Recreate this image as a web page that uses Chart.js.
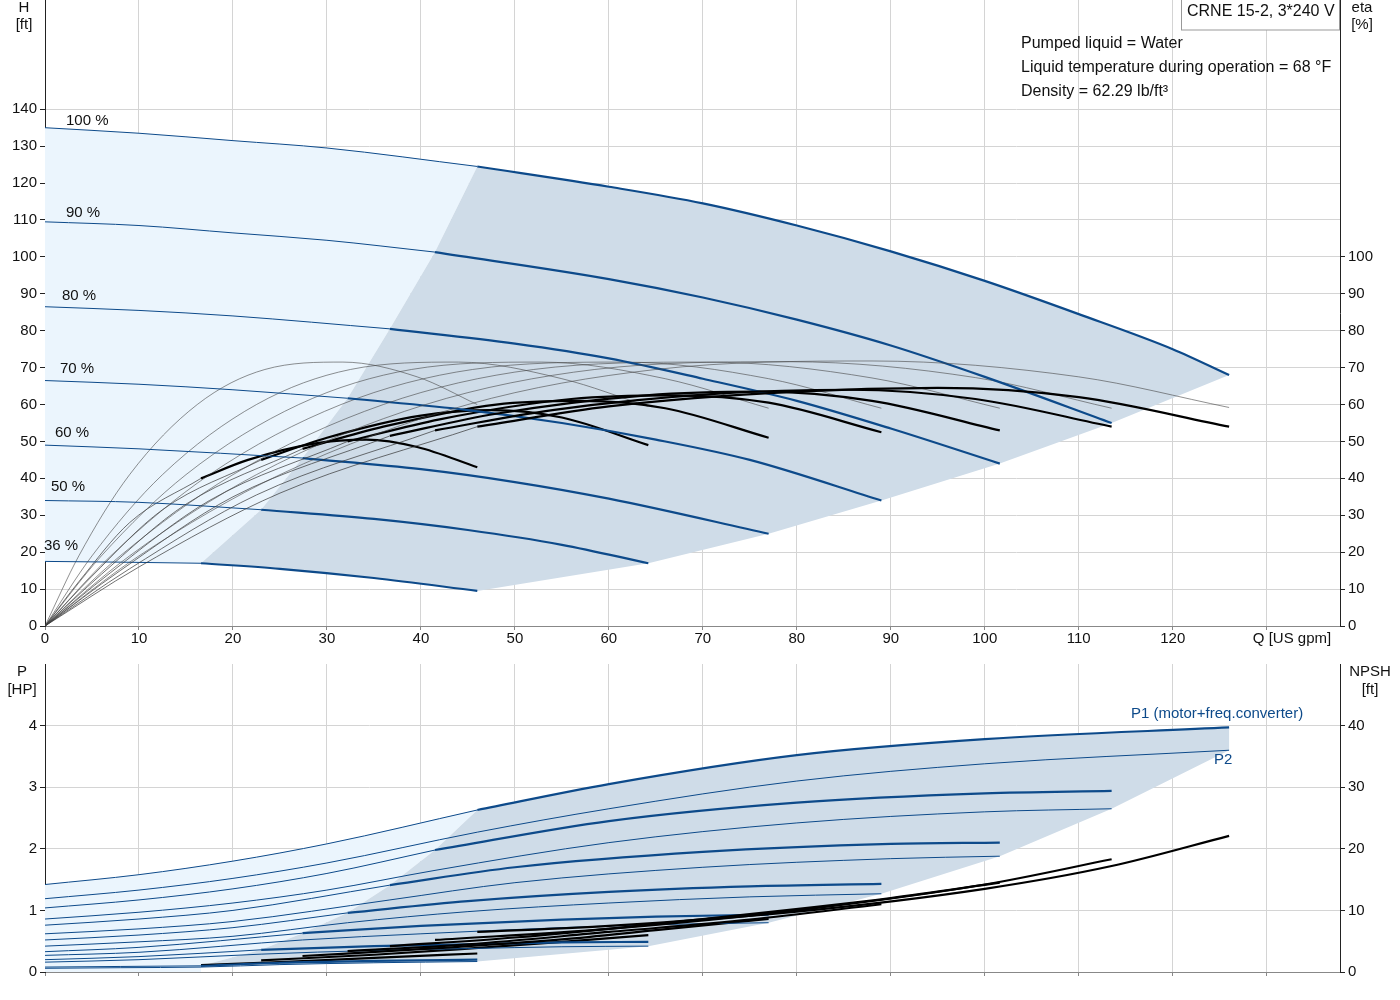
<!DOCTYPE html>
<html>
<head>
<meta charset="utf-8">
<script src="https://cdn.jsdelivr.net/npm/chart.js@4.4.1/dist/chart.umd.min.js"></script>
<style>
  body { margin: 0; background: #fff; overflow: hidden; }
  #top { position: absolute; left: 0; top: -12px; }
  #bottom { position: absolute; left: 0; top: 650px; }
</style>
</head>
<body>
<canvas id="top" width="1400" height="664"></canvas>
<canvas id="bottom" width="1400" height="350"></canvas>
<script>
// 속도별 라벨과 운전 범위
const speedLabels = ['100 %', '90 %', '80 %', '70 %', '60 %', '50 %', '36 %'];
const qStart = [46, 41.5, 36.7, 32.2, 27.4, 23, 16.6];
const qEnd = [126, 113.5, 101.6, 89, 77, 64.2, 46];

// 양정 H [ft]
const headQ = [
  [0, 10, 20, 30, 46, 60, 70, 80, 90, 100, 110, 120, 126],
  [0, 10, 20, 30, 41.5, 60, 70, 80, 90, 100, 113.5],
  [0, 10, 20, 36.7, 50, 60, 70, 80, 90, 101.6],
  [0, 10, 20, 32.2, 45, 55, 65, 75, 89],
  [0, 10, 27.4, 40, 50, 60, 77],
  [0, 10, 23, 35, 45, 55, 64.2],
  [0, 8, 16.6, 25, 35, 46]
];
const headH = [
  [135, 133.5, 131.5, 129.5, 124.5, 119, 114.5, 108.5, 101.5, 93.5, 84.5, 75, 68],
  [109.5, 108.5, 106.5, 104.5, 101.3, 94, 89, 83, 76, 67.5, 55],
  [86.5, 85.5, 84, 80.5, 76.5, 72.5, 67, 61, 53.5, 44],
  [66.5, 65.5, 64, 61.7, 58.5, 55, 50.5, 45, 34],
  [49, 48, 45.5, 42.5, 39, 34.5, 25],
  [34, 33.5, 31.5, 29, 26, 22, 17],
  [17.5, 17.3, 17, 15.5, 13, 9.5]
];

// 펌프 효율 (얇은 선)
const etaPumpQ = [
  [0, 10, 25, 45, 65, 88, 110, 126],
  [0, 9, 22.5, 40.5, 58.5, 79.2, 99, 113.5],
  [0, 8, 20, 36, 52, 70.4, 88, 101.6],
  [0, 7, 17.5, 31.5, 45.5, 61.6, 77, 89],
  [0, 6, 15, 27, 39, 52.8, 66, 77],
  [0, 5, 12.5, 22.5, 32.5, 44, 55, 64.2],
  [0, 3.6, 9, 16.2, 23.4, 31.7, 39.6, 46]
];
const etaPumpV = [
  [0, 19, 41, 60, 69.5, 71.8, 67.5, 59.2],
  [0, 19, 41, 60, 69.5, 71.6, 67.3, 59],
  [0, 19, 41, 60, 69.5, 71.5, 67.2, 59],
  [0, 19, 41, 60, 69.5, 71.5, 67, 59],
  [0, 19, 41, 60, 69.5, 71.5, 67, 59],
  [0, 19, 41, 60, 69.5, 71.5, 67, 59.5],
  [0, 19, 41, 60, 69.5, 71.5, 67.5, 60]
];

// 종합 효율 (굵은 검정 선)
const etaTotQ = [
  [0, 10, 25, 46, 60, 80, 95, 110, 126],
  [0, 9, 22.5, 41.5, 54, 72, 85.5, 99, 113.5],
  [0, 8, 20, 36.7, 48, 64, 76, 88, 101.6],
  [0, 7, 17.5, 32.2, 42, 56, 66.5, 77, 89],
  [0, 6, 15, 27.4, 36, 48, 57, 66, 77],
  [0, 5, 12.5, 23, 30, 40, 47.5, 55, 64.2],
  [0, 3.6, 9, 16.6, 21.6, 28.8, 34.2, 39.6, 46]
];
const etaTotV = [
  [0, 16, 36, 54, 59.5, 63.5, 64.5, 62, 54],
  [0, 15.5, 35.5, 53, 58.5, 63, 64, 61.5, 54],
  [0, 15, 35, 51.5, 57.5, 62.5, 63.5, 61, 53],
  [0, 14.5, 34, 50, 56, 61.5, 62.5, 60.5, 52.5],
  [0, 14, 33, 48, 54, 60, 61, 59, 51],
  [0, 13.5, 31.5, 45, 51, 57, 58.5, 56.5, 49],
  [0, 12, 28, 40, 45, 49.5, 50.5, 48.5, 43]
];

// 입력 동력 P1 [HP]
const p1Q = [
  [0, 10, 20, 30, 46, 60, 80, 100, 126],
  [0, 10, 20, 30, 41.5, 60, 80, 100, 113.5],
  [0, 10, 20, 36.7, 50, 70, 90, 101.6],
  [0, 10, 20, 32.2, 45, 60, 75, 89],
  [0, 10, 27.4, 40, 55, 65, 77],
  [0, 10, 23, 35, 45, 55, 64.2],
  [0, 8, 16.6, 25, 35, 46]
];
const p1V = [
  [1.42, 1.58, 1.8, 2.08, 2.63, 3.05, 3.52, 3.78, 3.97],
  [1.04, 1.17, 1.35, 1.6, 1.98, 2.45, 2.75, 2.9, 2.94],
  [0.76, 0.86, 1.0, 1.41, 1.7, 1.95, 2.08, 2.1],
  [0.52, 0.6, 0.72, 0.96, 1.15, 1.3, 1.39, 1.43],
  [0.33, 0.4, 0.63, 0.75, 0.85, 0.9, 0.93],
  [0.2, 0.25, 0.36, 0.42, 0.45, 0.48, 0.49],
  [0.08, 0.09, 0.1, 0.15, 0.18, 0.2]
];
// 축 동력 P2 [HP]
const p2V = [
  [1.19, 1.33, 1.52, 1.77, 2.27, 2.65, 3.1, 3.38, 3.6],
  [0.86, 0.97, 1.12, 1.33, 1.65, 2.1, 2.42, 2.6, 2.65],
  [0.62, 0.7, 0.82, 1.17, 1.45, 1.7, 1.84, 1.88],
  [0.42, 0.49, 0.58, 0.8, 0.98, 1.12, 1.22, 1.27],
  [0.27, 0.32, 0.52, 0.62, 0.72, 0.77, 0.8],
  [0.16, 0.2, 0.29, 0.35, 0.38, 0.41, 0.42],
  [0.06, 0.07, 0.08, 0.12, 0.15, 0.17]
];

// NPSH [ft]
const npshQ = [
  [46, 60, 80, 100, 113.5, 126],
  [41.5, 60, 80, 100, 113.5],
  [36.7, 50, 70, 90, 101.6],
  [32.2, 45, 60, 75, 89],
  [27.4, 40, 55, 65, 77],
  [23, 35, 45, 55, 64.2],
  [16.6, 25, 35, 46]
];
const npshV = [
  [6.5, 7.5, 9.8, 13.5, 17.2, 22.1],
  [5.2, 7, 10, 14.2, 18.3],
  [4.2, 5.6, 8.6, 12, 14.5],
  [3.4, 4.5, 6.5, 8.5, 11],
  [2.6, 3.7, 5.3, 6.8, 8.6],
  [1.9, 2.8, 3.8, 4.9, 6],
  [1.1, 1.6, 2.3, 3]
];

const xTicks = [0, 10, 20, 30, 40, 50, 60, 70, 80, 90, 100, 110, 120];
const hTicks = [0, 10, 20, 30, 40, 50, 60, 70, 80, 90, 100, 110, 120, 130, 140];
const etaTicks = [0, 10, 20, 30, 40, 50, 60, 70, 80, 90, 100];
const pTicks = [0, 1, 2, 3, 4];
const npshTicks = [0, 10, 20, 30, 40];

const BLUE = '#0d4a8a';
const FONT = '"Liberation Sans", Arial, sans-serif';

function pts(q, v) {
  return q.map((x, i) => ({ x: x, y: v[i] }));
}
function thin(q, v, qs) {
  return pts(q, v).filter(p => p.x <= qs);
}
function thick(q, v, qs) {
  return pts(q, v).filter(p => p.x >= qs);
}
function line(data, color, width, axis) {
  return {
    data: data, borderColor: color, borderWidth: width, yAxisID: axis || 'y',
    pointRadius: 0, fill: false, cubicInterpolationMode: 'monotone'
  };
}

// 음영 영역: 라이브러리 스케일로 좌표 변환
function lineClip(chart, idx, ctx, closeFn) {
  const el = chart.getDatasetMeta(idx).dataset;
  el.updateControlPoints(chart.chartArea, 'x');
  ctx.beginPath();
  el.path(ctx);
  closeFn();
  ctx.closePath();
  ctx.clip();
}
function poly(ctx, sx, sy, list, color) {
  ctx.beginPath();
  list.forEach((p, i) => {
    const px = sx.getPixelForValue(p[0]), py = sy.getPixelForValue(p[1]);
    if (i === 0) ctx.moveTo(px, py); else ctx.lineTo(px, py);
  });
  ctx.closePath();
  ctx.fillStyle = color;
  ctx.fill();
}

const topShade = {
  id: 'topShade',
  beforeDatasetsDraw(chart) {
    const ctx = chart.ctx, a = chart.chartArea;
    const sx = chart.scales.x, sy = chart.scales.y;
    const leftB = qStart.map((q, i) => [q, headH[i][headQ[i].indexOf(q)]]);
    const rightB = qEnd.map((q, i) => [q, headH[i][headQ[i].indexOf(q)]]).reverse();
    const top = sy.max;
    ctx.save();
    lineClip(chart, 0, ctx, () => { ctx.lineTo(a.right, a.bottom); ctx.lineTo(a.left, a.bottom); });
    lineClip(chart, 1, ctx, () => {
      ctx.lineTo(a.right, sy.getPixelForValue(rightB[0][1]));
      ctx.lineTo(a.right, a.top); ctx.lineTo(a.left, a.top);
    });
    poly(ctx, sx, sy, [[0, top], [qStart[0], top]].concat(leftB, [[qStart[6], 0], [0, 0]]), '#ebf5fd');
    poly(ctx, sx, sy, [[qStart[0], top]].concat(leftB, [[qStart[6], 0], [qEnd[6], 0]], rightB, [[qEnd[0], top]]), '#cfdce8');
    ctx.restore();
  }
};

const bottomShade = {
  id: 'bottomShade',
  beforeDatasetsDraw(chart) {
    const ctx = chart.ctx, a = chart.chartArea;
    const sx = chart.scales.x, sy = chart.scales.y;
    const leftB = qStart.map((q, i) => [q, p1V[i][p1Q[i].indexOf(q)]]);
    const rightB = qEnd.map((q, i) => [q, p2V[i][p1Q[i].indexOf(q)]]).reverse();
    const top = sy.max;
    ctx.save();
    lineClip(chart, 0, ctx, () => { ctx.lineTo(a.right, a.bottom); ctx.lineTo(a.left, a.bottom); });
    poly(ctx, sx, sy, [[0, top], [qStart[0], top]].concat(leftB, [[qStart[6], 0], [0, 0]]), '#ebf5fd');
    poly(ctx, sx, sy, [[qStart[0], top]].concat(leftB, rightB, [[qEnd[0], top]]), '#cfdce8');
    ctx.restore();
  }
};

function txt(ctx, s, x, y, color, align, size) {
  ctx.fillStyle = color || '#111';
  ctx.textAlign = align || 'left';
  ctx.font = (size || 15) + 'px ' + FONT;
  ctx.fillText(s, x, y);
}

// 위 차트 캔버스는 12px 위로 올려 배치됨
const OFF = 12;
const topText = {
  id: 'topText',
  afterDraw(chart) {
    const ctx = chart.ctx;
    ctx.save();
    ctx.translate(0, OFF);
    ctx.textBaseline = 'middle';
    txt(ctx, 'H', 24, 8, '#111', 'center');
    txt(ctx, '[ft]', 24, 25, '#111', 'center');
    txt(ctx, 'eta', 1362, 8, '#111', 'center');
    txt(ctx, '[%]', 1362, 25, '#111', 'center');
    txt(ctx, 'Q [US gpm]', 1292, 639, '#111', 'center');
    const lx = [66, 66, 62, 60, 55, 51, 44], ly = [121, 213, 296, 369, 433, 487, 546];
    speedLabels.forEach((s, i) => txt(ctx, s, lx[i], ly[i]));
    ctx.fillStyle = '#fff';
    ctx.fillRect(1181, 0, 159, 30);
    ctx.strokeStyle = '#999';
    ctx.lineWidth = 1;
    ctx.strokeRect(1181.5, -1, 158, 31);
    txt(ctx, 'CRNE 15-2, 3*240 V', 1187, 12, '#111', 'left', 16);
    txt(ctx, 'Pumped liquid = Water', 1021, 44, '#111', 'left', 16);
    txt(ctx, 'Liquid temperature during operation = 68 °F', 1021, 68, '#111', 'left', 16);
    txt(ctx, 'Density = 62.29 lb/ft³', 1021, 92, '#111', 'left', 16);
    ctx.restore();
  }
};

const bottomText = {
  id: 'bottomText',
  afterDraw(chart) {
    const ctx = chart.ctx;
    ctx.save();
    ctx.textBaseline = 'middle';
    txt(ctx, 'P', 22, 22, '#111', 'center');
    txt(ctx, '[HP]', 22, 40, '#111', 'center');
    txt(ctx, 'NPSH', 1370, 22, '#111', 'center');
    txt(ctx, '[ft]', 1370, 40, '#111', 'center');
    txt(ctx, 'P1 (motor+freq.converter)', 1131, 64, BLUE);
    txt(ctx, 'P2', 1214, 110, BLUE);
    ctx.restore();
  }
};

const tickFont = { family: FONT, size: 15 };

function xScale(showLabels, h) {
  return {
    type: 'linear', min: 0, max: 137.8,
    afterBuildTicks: s => { s.ticks = xTicks.concat([130]).map(v => ({ value: v })); },
    afterFit: s => { s.height = h; },
    border: { color: '#888' },
    grid: { color: '#d4d4d4', tickLength: 4, tickColor: '#888' },
    ticks: { display: showLabels, color: '#111', font: tickFont, maxRotation: 0, padding: 0,
      callback: v => (v === 130 ? '' : v) }
  };
}
function yScale(pos, max, tickVals, grid, width) {
  return {
    type: 'linear', position: pos, min: 0, max: max,
    afterBuildTicks: s => { s.ticks = tickVals.map(v => ({ value: v })); },
    afterFit: s => { s.width = width; },
    border: { color: '#222' },
    grid: { drawOnChartArea: grid, color: '#d4d4d4', tickLength: 5, tickColor: '#222' },
    ticks: { color: '#111', font: tickFont, padding: 3 }
  };
}

// 위 차트: 양정과 효율
const topSets = [
  line(pts(headQ[0], headH[0]), 'rgba(0,0,0,0)', 0),
  line(pts(headQ[6], headH[6]), 'rgba(0,0,0,0)', 0)
];
for (let i = 0; i < 7; i++) {
  topSets.push(line(thin(headQ[i], headH[i], qStart[i]), BLUE, 1));
  topSets.push(line(thick(headQ[i], headH[i], qStart[i]), BLUE, 2.2));
  topSets.push(line(pts(etaPumpQ[i], etaPumpV[i]), '#444', 0.6, 'y2'));
  topSets.push(line(thin(etaTotQ[i], etaTotV[i], qStart[i]), '#333', 0.7, 'y2'));
  topSets.push(line(thick(etaTotQ[i], etaTotV[i], qStart[i]), '#000', 2.2, 'y2'));
}

new Chart(document.getElementById('top'), {
  type: 'line',
  data: { datasets: topSets },
  options: {
    responsive: false, animation: false, devicePixelRatio: 1,
    layout: { padding: 0 },
    plugins: { legend: { display: false }, tooltip: { enabled: false } },
    scales: {
      x: xScale(true, 26),
      y: yScale('left', 169.6, hTicks, true, 45),
      y2: yScale('right', 169.6, etaTicks, false, 60)
    }
  },
  plugins: [topShade, topText]
});

// 아래 차트: 동력과 NPSH
const bottomSets = [line(pts(p1Q[0], p1V[0]), 'rgba(0,0,0,0)', 0)];
for (let i = 0; i < 7; i++) {
  bottomSets.push(line(thin(p1Q[i], p1V[i], qStart[i]), BLUE, 1));
  bottomSets.push(line(thick(p1Q[i], p1V[i], qStart[i]), BLUE, 2.2));
  bottomSets.push(line(pts(p1Q[i], p2V[i]), BLUE, 1));
  bottomSets.push(line(pts(npshQ[i], npshV[i]), '#000', 2.2, 'y2'));
}

new Chart(document.getElementById('bottom'), {
  type: 'line',
  data: { datasets: bottomSets },
  options: {
    responsive: false, animation: false, devicePixelRatio: 1,
    layout: { padding: { top: 14 } },
    plugins: { legend: { display: false }, tooltip: { enabled: false } },
    scales: {
      x: xScale(false, 28),
      y: yScale('left', 5, pTicks, true, 45),
      y2: yScale('right', 50, npshTicks, false, 60)
    }
  },
  plugins: [bottomShade, bottomText]
});
</script>
</body>
</html>
